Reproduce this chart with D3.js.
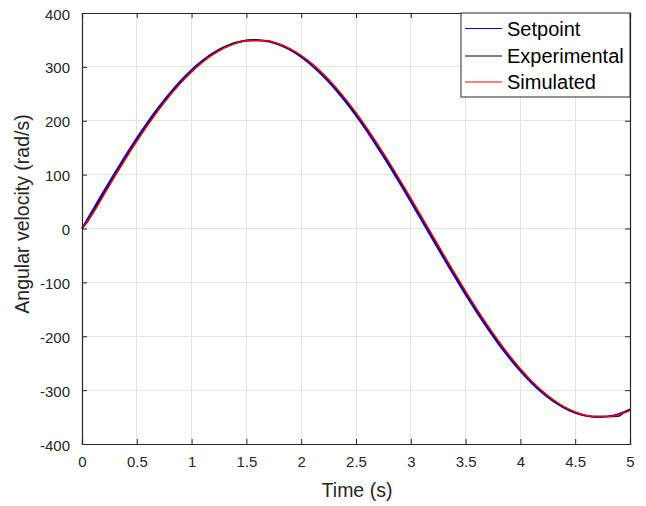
<!DOCTYPE html>
<html><head><meta charset="utf-8">
<script src="https://cdn.jsdelivr.net/npm/d3@7"></script>
<style>
body{margin:0;background:#fff;}
svg{display:block;font-family:"Liberation Sans",Arial,sans-serif;}
</style></head>
<body>
<svg id="chart" width="646" height="506"></svg>
<script>
// Time grid (s) – 0.05 s spacing for setpoint & experimental, 0.1 s for simulated
const tFine = d3.range(0, 101).map(i => +(i * 0.05).toFixed(2));
const tCoarse = d3.range(0, 51).map(i => +(i * 0.1).toFixed(1));

const setpoint = [0,17.5,34.9,52.3,69.5,86.6,103.4,120.0,136.3,152.3,167.8,183.0,197.6,211.8,225.5,238.6,251.1,262.9,274.2,284.7,
294.5,303.6,311.9,319.5,326.2,332.1,337.2,341.4,344.9,347.4,349.1,349.9,349.9,348.9,347.1,344.4,340.8,336.5,331.2,325.2,
318.3,310.6,302.1,292.8,283.0,272.3,261.0,249.0,236.4,223.2,209.5,195.2,180.4,165.2,149.6,133.6,117.3,100.6,83.7,66.6,
49.4,32.0,14.6,-2.9,-20.4,-37.9,-55.2,-72.3,-89.4,-106.1,-122.8,-139.0,-154.9,-170.5,-185.4,-200.1,-214.2,-227.7,-240.7,-253.1,
-264.9,-276.0,-286.4,-296.2,-305.1,-313.3,-320.7,-327.2,-333.1,-338.0,-342.1,-345.4,-347.8,-349.3,-350.0,-349.7,-348.7,-346.7,-343.9,-340.2,-335.6];

const experimental = [0,12.5,29.9,47.4,64.6,81.8,98.6,115.3,131.7,147.8,163.4,178.7,193.5,207.8,221.7,235.0,247.6,259.6,271.1,281.8,
291.8,301.1,309.6,317.5,324.4,330.5,335.9,340.3,344.1,346.8,348.7,349,349,349,348.5,345.3,341.9,337.9,332.8,327.1,
320.4,312.9,304.6,295.5,285.9,275.4,264.3,252.5,240.1,227.1,213.5,199.4,184.7,169.6,154.1,138.2,122.0,105.4,88.6,71.5,
54.4,37.0,19.6,2.1,-15.4,-32.9,-50.3,-67.4,-84.6,-101.3,-118.1,-134.4,-150.4,-166.1,-181.2,-196.0,-210.2,-223.9,-237.1,-249.6,
-261.6,-272.9,-283.5,-293.5,-302.6,-311.1,-318.7,-325.4,-331.6,-336.7,-341.0,-344.6,-347.2,-349,-349,-349,-349,-349,-348,-341.4,-337.0];

const simulated = [0,27.9,62.6,96.7,129.9,161.7,191.8,220.1,246.2,269.8,290.7,308.7,323.7,335.3,343.7,348.6,349,348,342.4,333.5,
321.2,305.6,287.1,265.7,241.6,215.1,186.4,155.9,123.9,90.5,56.3,21.6,-13.4,-48.3,-82.6,-116.2,-148.6,-179.5,-208.7,-235.6,
-260.3,-282.4,-301.7,-317.9,-331.0,-340.6,-347.0,-349,-349,-345.2,-337.6];

const xTicks = [0,0.5,1,1.5,2,2.5,3,3.5,4,4.5,5];
const yTicks = [-400,-300,-200,-100,0,100,200,300,400];
const seriesNames = ["Setpoint","Experimental","Simulated"];
const seriesColors = ["#0000ff","#000000","#ff0000"];

const svg = d3.select("#chart");
const L = 82, R = 630, T = 13, B = 444;
const x = d3.scaleLinear().domain([0,5]).range([L,R]);
const y = d3.scaleLinear().domain([-400,400]).range([B,T]);
const axisCol = "#262626";

// grid
const g = svg.append("g");
g.selectAll(".gx").data(xTicks).join("line")
  .attr("x1", d=>x(d)).attr("x2", d=>x(d)).attr("y1", T).attr("y2", B)
  .attr("stroke","#e3e3e3").attr("stroke-width",1).attr("shape-rendering","crispEdges");
g.selectAll(".gy").data(yTicks).join("line")
  .attr("y1", d=>y(d)).attr("y2", d=>y(d)).attr("x1", L).attr("x2", R)
  .attr("stroke","#e3e3e3").attr("stroke-width",1).attr("shape-rendering","crispEdges");

// lines
const data = [
  tFine.map((t,i)=>[t,setpoint[i]]),
  tFine.map((t,i)=>[t,experimental[i]]),
  tCoarse.map((t,i)=>[t,simulated[i]])
];
const lineGen = d3.line().x(d=>x(d[0])).y(d=>y(d[1]));
const curves = [d3.curveLinear, d3.curveLinear, d3.curveMonotoneX];
const widths = [1.8, 1.6, 1.4];
data.forEach((ser,k)=>{
  svg.append("path").datum(ser)
    .attr("d", lineGen.curve(curves[k]))
    .attr("fill","none").attr("stroke", seriesColors[k]).attr("stroke-width",widths[k])
    .attr("stroke-linejoin","round");
});

// axes
const fmt = d => String(d);
const xb = d3.axisBottom(x).tickValues(xTicks).tickFormat(fmt).tickSize(-5).tickPadding(12);
const xt = d3.axisTop(x).tickValues(xTicks).tickFormat("").tickSize(-5);
const yl = d3.axisLeft(y).tickValues(yTicks).tickFormat(fmt).tickSize(-5).tickPadding(12);
const yr = d3.axisRight(y).tickValues(yTicks).tickFormat("").tickSize(-5);
function styleAxis(sel, dy){
  sel.select(".domain").attr("stroke",axisCol).attr("stroke-width",1.2);
  sel.selectAll(".tick line").attr("stroke",axisCol).attr("stroke-width",1);
  sel.selectAll(".tick text").attr("fill",axisCol).attr("font-size",15)
    .attr("font-family","Liberation Sans, Arial, sans-serif").attr("dy", dy);
}
svg.append("g").attr("transform",`translate(0,${B})`).call(xb).call(styleAxis, "0.71em");
svg.append("g").attr("transform",`translate(0,${T})`).call(xt).call(styleAxis, "0");
svg.append("g").attr("transform",`translate(${L},0)`).call(yl).call(styleAxis, "0.4em");
svg.append("g").attr("transform",`translate(${R},0)`).call(yr).call(styleAxis, "0");

// labels
svg.append("text").attr("x", 357).attr("y", 497).attr("text-anchor","middle")
  .attr("font-size",19.5).attr("fill",axisCol).text("Time (s)");
svg.append("text").attr("transform","translate(29,214) rotate(-90)").attr("text-anchor","middle")
  .attr("font-size",19.5).attr("fill",axisCol).text("Angular velocity (rad/s)");

// legend
const lg = svg.append("g");
lg.append("rect").attr("x",461).attr("y",T).attr("width",R-461).attr("height",97-T)
  .attr("fill","#fff").attr("stroke",axisCol).attr("stroke-width",1);
const rowsY = [28.5, 56, 82];
seriesNames.forEach((n,i)=>{
  lg.append("line").attr("x1",465).attr("x2",502).attr("y1",rowsY[i]).attr("y2",rowsY[i])
    .attr("stroke",seriesColors[i]).attr("stroke-width",1.2);
  lg.append("text").attr("x",507).attr("y",rowsY[i]).attr("dy","0.36em")
    .attr("font-size",20).attr("fill","#000").text(n);
});
</script>
</body></html>
